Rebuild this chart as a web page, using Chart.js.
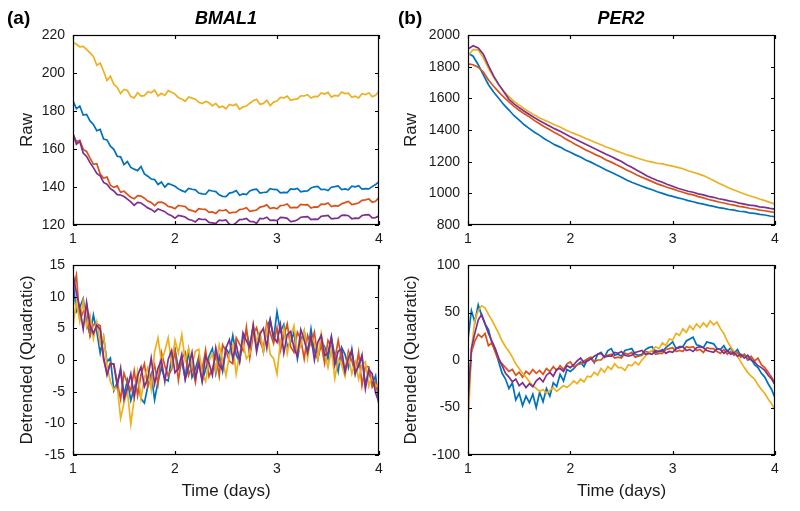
<!DOCTYPE html>
<html lang="en">
<head>
  <meta charset="UTF-8" />
  <title>BMAL1 / PER2 traces</title>
  <style>
    body {
      margin: 0;
      background: #fff;
    }

    #wrap {
      position: relative;
      width: 800px;
      height: 511px;
      overflow: hidden;
      font-family: 'Liberation Sans', Arial, sans-serif;
      color: #000;
    }

    #wrap canvas {
      position: absolute;
      left: 0;
      top: 0;
    }

    .tag, .gene {
      position: absolute;
      font-weight: bold;
      line-height: 1;
      white-space: nowrap;
    }

    .tag { font-size: 19px; top: 8px; }
    .gene { font-size: 18px; font-style: italic; top: 9px; transform: translateX(-50%); }
  </style>
</head>
<body>

<div id="wrap">
  <canvas id="bmalRaw" width="800" height="511"></canvas>
  <canvas id="bmalDet" width="800" height="511"></canvas>
  <canvas id="perRaw" width="800" height="511"></canvas>
  <canvas id="perDet" width="800" height="511"></canvas>
  <div class="tag" style="left:7px">(a)</div>
  <div class="gene" style="left:226px">BMAL1</div>
  <div class="tag" style="left:398px">(b)</div>
  <div class="gene" style="left:621px">PER2</div>
</div>

<script src="https://cdn.jsdelivr.net/npm/chart.js"></script>

<script>
// sampling grids (days)
const timeFine = Array.from({ length: 91 }, (_, i) => 1 + i / 30);
const timeCoarse = Array.from({ length: 61 }, (_, i) => 1 + i / 20);

const xTicks = [1, 2, 3, 4];

// (a) BMAL1, raw counts
const bmalRawBlue = [
  185.4, 181.2, 182.6, 177.9, 178.2, 174.8, 172.9, 169.6, 170.3, 165.2, 164.8, 161.5, 159.8, 156.2, 155.9,
  151.8, 153.4, 150.3, 149.4, 148.6, 150.8, 146.9, 145.7, 144.2, 143.9, 141.3, 142.6, 139.9, 141.8, 141.2,
  140.4, 139.0, 138.1, 137.4, 139.2, 138.8, 138.5, 136.8, 136.4, 136.2, 138.3, 137.9, 137.6, 135.9, 135.1,
  134.9, 136.8, 137.2, 138.1, 135.7, 136.4, 136.0, 137.9, 138.6, 138.9, 136.8, 137.1, 137.3, 139.1, 138.7,
  138.6, 136.9, 137.2, 137.1, 139.0, 138.8, 139.2, 137.4, 137.8, 137.9, 139.5, 140.1, 140.3, 138.6, 138.8,
  138.1, 139.9, 140.2, 140.6, 138.7, 139.0, 138.5, 140.4, 140.1, 140.7, 138.9, 139.1, 139.0, 140.2, 141.3,
  142.8
];
const bmalRawOrange = [
  167.5, 163.9, 164.6, 159.8, 158.7, 155.2, 151.9, 152.3, 146.8, 144.7, 145.2, 140.9, 139.8, 140.6, 137.2,
  137.8, 136.1, 134.6, 133.8, 135.5, 135.2, 134.1, 132.6, 131.9, 130.2, 131.9, 132.0, 131.3, 129.8, 129.4,
  128.6, 130.3, 130.0, 129.7, 128.1, 127.6, 126.9, 128.6, 128.3, 128.2, 126.6, 126.9, 126.1, 127.8, 127.5,
  128.0, 126.3, 126.6, 126.7, 128.1, 128.4, 129.1, 127.2, 127.6, 127.9, 129.4, 129.8, 130.6, 128.7, 129.1,
  128.5, 130.2, 130.4, 131.1, 129.0, 129.3, 129.1, 130.8, 130.6, 130.7, 128.9, 129.5, 129.4, 131.0, 130.9,
  131.6, 129.7, 130.2, 129.9, 131.2, 131.8, 132.4, 130.8, 131.1, 131.6, 133.0, 133.2, 133.7, 132.0, 132.5,
  134.6
];
const bmalRawYellow = [
  216.2, 215.1, 213.8, 214.0, 212.4, 210.6, 208.7, 204.1, 205.2, 200.9, 196.0, 198.3, 194.1, 192.4, 189.2,
  191.3, 190.8, 187.6, 186.9, 189.7, 187.8, 188.1, 190.2, 189.6, 191.0, 187.9, 189.3, 188.2, 190.7, 189.9,
  188.9, 187.0, 186.3, 185.1, 187.4, 186.8, 186.2, 184.6, 183.9, 185.0, 184.3, 182.7, 184.0, 181.9, 182.5,
  181.2, 183.4, 182.9, 183.6, 180.9, 182.2, 182.6, 184.1, 185.4, 186.2, 183.5, 184.0, 185.6, 182.8, 184.7,
  185.2, 187.1, 186.9, 187.8, 185.6, 186.1, 186.4, 188.0, 187.9, 188.6, 186.8, 187.7, 187.6, 189.5, 188.9,
  189.8, 187.3, 188.2, 187.9, 190.0, 189.2, 189.4, 187.2, 187.8, 186.9, 189.1, 188.6, 189.6, 187.5, 188.3,
  190.4
];
const bmalRawPurple = [
  168.3, 162.5, 164.0, 157.9, 156.1, 152.8, 150.2, 147.1, 145.9, 142.4, 141.5, 139.1, 137.9, 136.0, 135.8,
  135.0, 133.6, 132.2, 130.4, 131.9, 131.6, 130.3, 129.0, 128.2, 126.9, 128.4, 127.8, 127.0, 125.6, 124.9,
  123.6, 125.1, 124.7, 124.2, 122.9, 122.5, 121.6, 123.3, 122.9, 123.0, 121.4, 121.1, 120.8, 122.5, 122.3,
  122.7, 120.4, 119.8, 121.2, 122.8, 123.0, 123.4, 121.9, 121.8, 120.9, 123.5, 123.3, 124.1, 122.4, 122.6,
  122.3, 124.0, 123.9, 123.5, 121.8, 122.0, 122.7, 124.1, 124.3, 124.4, 122.9, 123.1, 123.0, 124.6, 124.8,
  125.0, 123.2, 123.5, 123.6, 125.1, 125.2, 124.9, 123.3, 123.6, 123.5, 125.0, 125.3, 125.4, 123.7, 123.9,
  124.8
];

// (a) BMAL1, detrended
const bmalDetBlue = [
  12.5, 7.6, 8.3, 9.7, 5.9, 4.0, 7.1, 4.5, 1.1, 3.6, -0.3, 0.3, -4.8, -3.6, -1.7,
  -5.5, -3.2, -6.4, -4.4, -2.9, -6.1, -6.8, -4.1, -2.2, -6.3, -3.4, -1.2, -3.0, -3.3, 0.5,
  1.7, -1.4, -0.3, -2.9, 1.5, -2.7, -1.4, 0.5, -3.3, -1.5, 0.6, 1.8, -2.1, 0.6, -1.8,
  1.8, 0.9, 3.9, 0.8, -0.3, 3.4, 4.5, 2.2, 5.2, 1.9, 3.9, 1.3, 5.0, 6.4, 3.3,
  7.6, 4.5, 5.6, 2.1, 2.8, 4.4, 0.2, 3.1, 4.6, 1.0, 4.9, 1.4, 0.1, 3.0, 2.1,
  0.2, 3.5, 0.6, -1.8, 2.0, 0.9, -1.2, 1.7, -2.3, -0.6, 0.4, -4.0, -1.5, -3.9, -2.5,
  -7.2
];
const bmalDetOrange = [
  11.0, 13.4, 6.3, 7.6, 8.6, 3.8, 5.6, 5.7, 5.4, 0.0, -1.9, -0.4, -0.7, -3.5, -6.2,
  -2.1, -3.7, -4.8, -1.7, -5.6, -2.3, -0.6, -4.2, -2.7, -0.8, -3.8, 1.2, -0.9, -2.5, -1.5,
  1.4, -3.2, 0.2, 1.2, -2.4, -0.9, -3.5, 0.3, -1.5, 1.6, -2.6, -1.4, 0.8, -2.5, 2.4,
  1.4, -0.2, -0.6, 3.5, 2.5, 1.5, 5.2, 0.4, 4.1, 5.1, 2.9, 1.7, 5.9, 4.3, 2.6,
  5.1, 1.5, 3.8, 5.7, 2.1, 1.2, 4.4, 3.3, 0.2, 3.9, 2.4, 4.4, 0.3, 2.5, -0.5,
  3.1, 2.1, 0.1, 3.1, 0.1, -1.8, 1.4, -0.1, -2.1, 1.2, -4.0, -1.0, -1.1, -4.3, -3.5,
  -5.5
];
const bmalDetYellow = [
  5.4, 9.2, 6.1, 9.3, 5.2, 7.1, 3.4, 6.0, 2.5, 3.8, -0.9, -3.4, -4.7, -4.1, -9.2,
  -6.8, -4.9, -10.1, -6.1, -1.9, -6.1, -2.8, -1.2, -4.6, 1.3, 3.5, -0.2, 1.4, 3.5, -0.7,
  3.1, 1.1, 4.0, -0.1, 1.8, -0.9, 1.4, 1.7, -2.1, -3.4, -0.2, 1.0, -1.7, 2.4, 0.0,
  -2.5, 0.7, 2.3, -2.2, 1.1, 2.6, 0.2, 1.0, 5.6, 2.9, 4.4, 1.3, 5.0, 0.9, 0.2,
  -2.2, 2.9, 5.0, 1.0, 3.7, 5.4, 1.1, 2.3, 4.6, 0.3, 3.7, 2.7, 0.2, 4.2, 1.2,
  -1.2, 1.6, -2.9, 0.2, -0.8, -2.6, 0.6, -2.2, -0.3, -3.0, -0.8, -0.3, -4.1, -2.4, -4.3,
  -3.6
];
const bmalDetPurple = [
  13.6, 10.6, 8.2, 4.9, 9.1, 5.5, 4.2, 5.5, 4.8, 0.4, -2.4, -0.6, -0.6, -4.1, -1.3,
  -6.2, -4.4, -2.2, -5.8, -2.5, -1.1, -4.2, -2.9, 0.3, -3.8, -1.3, 0.0, -3.4, 0.1, 1.5,
  -2.0, -1.3, 0.9, -3.1, -1.1, 1.2, -2.8, -0.6, -3.4, 0.6, -0.5, -2.4, 1.9, -0.9, -1.5,
  1.9, 3.2, 0.2, 2.5, -0.2, 4.3, 3.0, 2.0, 5.5, 1.3, 4.1, 5.0, 1.9, 6.3, 3.6,
  2.8, 5.6, 1.1, 4.0, 4.5, 1.9, 0.6, 4.8, 3.1, 1.1, 3.8, 0.0, 2.8, 3.9, 0.7,
  1.1, 3.7, -0.8, 1.4, 1.7, -1.9, 0.3, 1.5, -2.0, -1.0, 0.8, -4.5, -1.5, -2.2, -5.2,
  -6.7
];

// (b) PER2, raw counts
const perRawBlue = [
  1884, 1866, 1812, 1748, 1686, 1640, 1600, 1560, 1526, 1490, 1462, 1433, 1409, 1386, 1366,
  1343, 1325, 1306, 1292, 1274, 1260, 1243, 1229, 1211, 1197, 1180, 1165, 1148, 1133, 1117,
  1102, 1084, 1070, 1057, 1045, 1033, 1023, 1010, 1000, 989, 981, 971, 964, 954, 947,
  938, 932, 924, 918, 910, 905, 898, 894, 887, 884, 877, 873, 867, 863, 857,
  852
];
const perRawOrange = [
  1818, 1812, 1797, 1766, 1716, 1676, 1641, 1607, 1578, 1549, 1525, 1502, 1483, 1459, 1440,
  1419, 1402, 1382, 1366, 1345, 1328, 1308, 1292, 1274, 1260, 1243, 1229, 1211, 1197, 1180,
  1165, 1147, 1133, 1116, 1101, 1088, 1074, 1060, 1049, 1037, 1028, 1016, 1007, 997, 990,
  979, 971, 961, 954, 945, 939, 931, 926, 918, 913, 906, 901, 894, 890, 884,
  879
];
const perRawYellow = [
  1868, 1908, 1906, 1856, 1790, 1734, 1684, 1645, 1610, 1581, 1557, 1534, 1514, 1494, 1476,
  1461, 1447, 1431, 1419, 1402, 1387, 1374, 1362, 1346, 1334, 1319, 1307, 1293, 1282, 1268,
  1256, 1244, 1235, 1223, 1214, 1204, 1197, 1190, 1186, 1178, 1172, 1164, 1155, 1143, 1133,
  1123, 1112, 1097, 1081, 1064, 1049, 1034, 1021, 1008, 996, 985, 975, 964, 954, 943,
  932
];
const perRawPurple = [
  1912, 1932, 1918, 1878, 1806, 1742, 1688, 1642, 1594, 1565, 1541, 1518, 1498, 1477, 1458,
  1441, 1424, 1407, 1392, 1374, 1358, 1342, 1326, 1310, 1294, 1278, 1263, 1247, 1232, 1216,
  1201, 1181, 1165, 1146, 1129, 1110, 1095, 1081, 1070, 1056, 1045, 1032, 1023, 1013, 1007,
  997, 990, 981, 975, 966, 960, 952, 947, 938, 932, 926, 922, 915, 911, 905,
  900
];

// (b) PER2, detrended
const perDetBlue = [
  22, 52, 40, 58, 47, 38, 32, 18, 10, -2, -14, -20, -30, -24, -42,
  -35, -48, -38, -45, -36, -50, -34, -44, -30, -38, -24, -28, -15, -22, -10,
  -12, -9, -5, -2, -7, 1, 2, -3, 6, 8, 3, 10, 12, 5, 6,
  4, 10, 11, 12, 6, 5, 6, 11, 13, 14, 8, 9, 9, 13, 16,
  19, 12, 14, 14, 20, 22, 24, 16, 15, 13, 19, 18, 17, 12, 11,
  15, 9, 13, 7, 11, 4, 6, 0, 1, -5, -8, -14, -18, -25, -31,
  -40
];
const perDetOrange = [
  -48, 8, 20, 27, 24, 28, 15, 18, 8, 0, -4, -8, -12, -10, -16,
  -13, -18, -12, -15, -10, -14, -11, -15, -9, -12, -7, -11, -6, -10, -4,
  -2, -7, -5, -4, -1, 1, 3, -2, 0, 0, 4, 5, 6, 2, 3,
  2, 7, 6, 8, 3, 4, 5, 9, 8, 10, 6, 7, 7, 11, 12,
  13, 9, 10, 9, 14, 13, 14, 10, 11, 8, 13, 12, 12, 9, 7,
  11, 6, 9, 5, 8, 3, 6, 1, 4, -1, 2, -5, -8, -13, -18,
  -24
];
const perDetYellow = [
  -72, 10, 42, 52, 57, 55, 48, 42, 35, 28, 20, 14, 9, 3, -4,
  -9, -14, -18, -23, -27, -30, -33, -31, -35, -32, -29, -33, -30, -27, -29,
  -26, -22, -25, -20, -23, -17, -18, -13, -16, -9, -13, -7, -10, -4, -8,
  -8, -11, -5, -6, -2, -5, 0, 4, 8, 10, 14, 12, 18, 15, 22,
  21, 28, 26, 33, 29, 36, 32, 38, 34, 39, 35, 41, 37, 40, 33,
  28, 20, 14, 9, 4, -2, -8, -13, -17, -20, -26, -31, -35, -41, -46,
  -53
];
const perDetPurple = [
  -44, 12, 28, 42, 48, 38, 28, 20, 12, 2, -6, -14, -18, -23, -20,
  -27, -24, -29, -25, -28, -22, -19, -23, -16, -13, -17, -10, -9, -12, -6,
  -8, -5, -1, 2, -3, -1, 1, 4, 6, 7, 3, 4, 4, 8, 7,
  9, 5, 4, 5, 8, 9, 10, 6, 7, 6, 10, 9, 11, 7, 9,
  8, 12, 13, 14, 10, 11, 9, 13, 14, 13, 10, 9, 8, 12, 11,
  7, 10, 6, 8, 4, 6, 2, 5, 0, -2, -6, -8, -11, -16, -20,
  -26
];

// MATLAB default line colours
const BLUE = '#0072BD';
const ORANGE = '#D95319';
const YELLOW = '#EDB120';
const PURPLE = '#7E2F8E';
const INK = '#1a1a1a';

Chart.defaults.font.family = "'Liberation Sans', Arial, sans-serif";

// black box round the axes with MATLAB style inward ticks
const boxFrame = {
  id: 'boxFrame',
  afterDatasetsDraw(chart) {
    const { ctx, chartArea: a, scales } = chart;
    const len = 4;
    ctx.save();
    ctx.strokeStyle = '#000';
    ctx.lineWidth = 1.2;
    ctx.strokeRect(a.left + 0.5, a.top + 0.5, a.right - a.left - 1, a.bottom - a.top - 1);
    ctx.beginPath();
    scales.x.ticks.forEach(t => {
      const px = Math.round(scales.x.getPixelForValue(t.value)) + 0.5;
      ctx.moveTo(px, a.bottom); ctx.lineTo(px, a.bottom - len);
      ctx.moveTo(px, a.top); ctx.lineTo(px, a.top + len);
    });
    scales.y.ticks.forEach(t => {
      const py = Math.round(scales.y.getPixelForValue(t.value)) + 0.5;
      ctx.moveTo(a.left, py); ctx.lineTo(a.left + len, py);
      ctx.moveTo(a.right, py); ctx.lineTo(a.right - len, py);
    });
    ctx.stroke();
    ctx.restore();
  }
};

function buildPanel(id, p) {
  const ctx = document.getElementById(id).getContext('2d');
  const colors = [BLUE, ORANGE, YELLOW, PURPLE];
  return new Chart(ctx, {
    type: 'line',
    data: {
      datasets: p.series.map((vals, i) => ({
        data: vals.map((v, j) => ({ x: p.times[j], y: v })),
        borderColor: colors[i],
        borderWidth: 1.7,
        pointRadius: 0,
        tension: 0,
        order: 3 - i   // purple drawn last, as in the original
      }))
    },
    options: {
      responsive: false,
      animation: false,
      devicePixelRatio: 1,
      events: [],
      layout: {
        padding: { left: p.titleLeft, top: p.top, right: 800 - p.right, bottom: 511 - p.bottom - p.xBox }
      },
      plugins: { legend: { display: false }, tooltip: { enabled: false } },
      scales: {
        x: {
          type: 'linear',
          min: 1,
          max: 4,
          afterBuildTicks: s => { s.ticks = xTicks.map(v => ({ value: v })); },
          afterFit: s => { s.height = p.xBox; },
          grid: { display: false, drawTicks: false },
          border: { display: false },
          ticks: { padding: 6, color: INK, font: { size: 14 }, callback: v => String(v) },
          title: { display: !!p.xTitle, text: p.xTitle || '', color: INK, font: { size: 17 } }
        },
        y: {
          type: 'linear',
          min: p.yMin,
          max: p.yMax,
          afterBuildTicks: s => { s.ticks = p.yTicks.map(v => ({ value: v })); },
          afterFit: s => { s.width = p.left - p.titleLeft; },
          grid: { display: false, drawTicks: false },
          border: { display: false },
          ticks: { padding: 8, color: INK, font: { size: 14 }, callback: v => String(v) },
          title: { display: true, text: p.yTitle, color: INK, font: { size: 17 } }
        }
      }
    },
    plugins: [boxFrame]
  });
}

buildPanel('bmalRaw', {
  times: timeFine,
  series: [bmalRawBlue, bmalRawOrange, bmalRawYellow, bmalRawPurple],
  left: 73, right: 379, top: 35, bottom: 225, titleLeft: 13, xBox: 30,
  yMin: 120, yMax: 220, yTicks: [120, 140, 160, 180, 200, 220],
  yTitle: 'Raw'
});

buildPanel('bmalDet', {
  times: timeFine,
  series: [bmalDetBlue, bmalDetOrange, bmalDetYellow, bmalDetPurple],
  left: 73, right: 379, top: 265, bottom: 455, titleLeft: 13, xBox: 51,
  yMin: -15, yMax: 15, yTicks: [-15, -10, -5, 0, 5, 10, 15],
  yTitle: 'Detrended (Quadratic)', xTitle: 'Time (days)'
});

buildPanel('perRaw', {
  times: timeCoarse,
  series: [perRawBlue, perRawOrange, perRawYellow, perRawPurple],
  left: 468, right: 775, top: 35, bottom: 225, titleLeft: 397, xBox: 30,
  yMin: 800, yMax: 2000, yTicks: [800, 1000, 1200, 1400, 1600, 1800, 2000],
  yTitle: 'Raw'
});

buildPanel('perDet', {
  times: timeFine,
  series: [perDetBlue, perDetOrange, perDetYellow, perDetPurple],
  left: 468, right: 775, top: 265, bottom: 455, titleLeft: 397, xBox: 51,
  yMin: -100, yMax: 100, yTicks: [-100, -50, 0, 50, 100],
  yTitle: 'Detrended (Quadratic)', xTitle: 'Time (days)'
});
</script>

</body>
</html>
